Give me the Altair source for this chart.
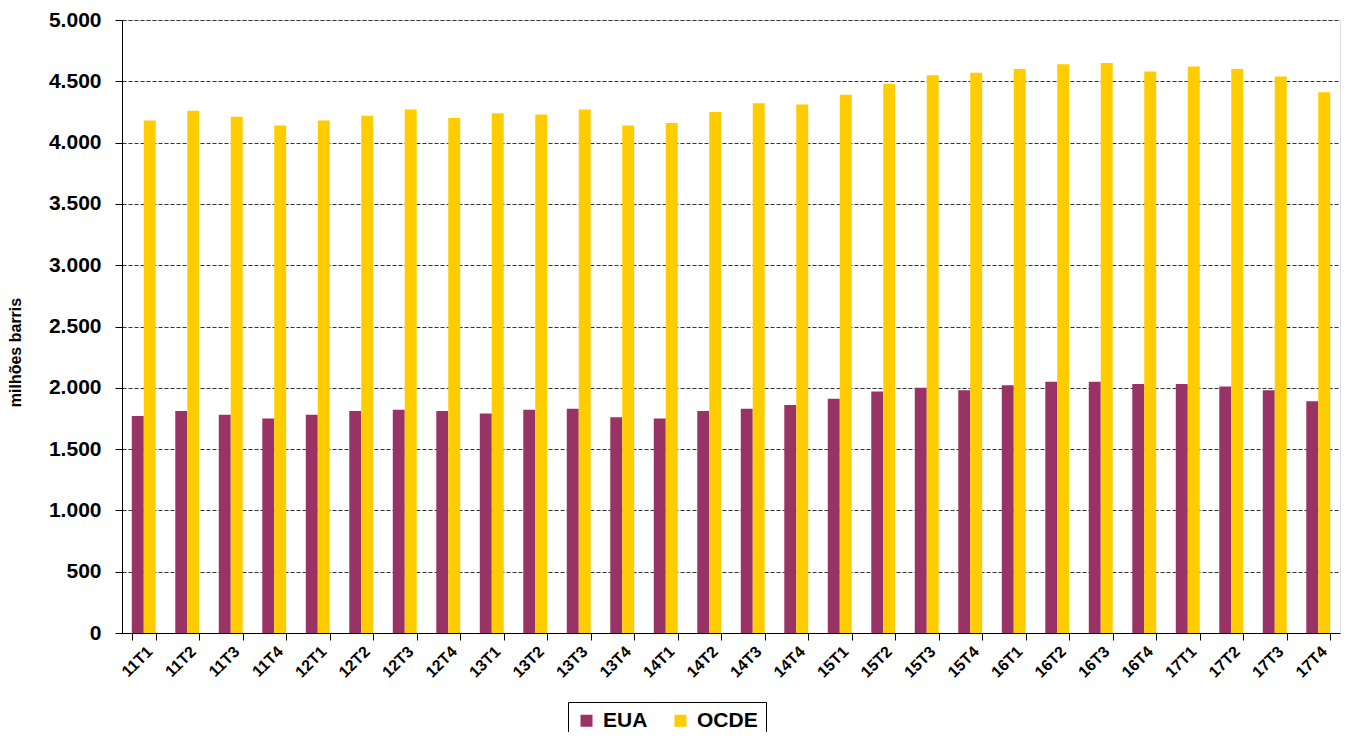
import altair as alt
import pandas as pd

quarters = ["11T1", "11T2", "11T3", "11T4", "12T1", "12T2", "12T3", "12T4",
            "13T1", "13T2", "13T3", "13T4", "14T1", "14T2", "14T3", "14T4",
            "15T1", "15T2", "15T3", "15T4", "16T1", "16T2", "16T3", "16T4",
            "17T1", "17T2", "17T3", "17T4"]
eua = [1770, 1810, 1780, 1750, 1780, 1810, 1820, 1810,
       1790, 1820, 1830, 1760, 1750, 1810, 1830, 1860,
       1910, 1970, 2000, 1980, 2020, 2050, 2050, 2030,
       2030, 2010, 1980, 1890]
ocde = [4180, 4260, 4210, 4140, 4180, 4220, 4270, 4200,
        4240, 4230, 4270, 4140, 4160, 4250, 4320, 4310,
        4390, 4480, 4550, 4570, 4600, 4640, 4650, 4580,
        4620, 4600, 4540, 4410]
series = ["EUA", "OCDE"]
colors = ["#993366", "#FFCC00"]
y_ticks = [0, 500, 1000, 1500, 2000, 2500, 3000, 3500, 4000, 4500, 5000]

rows = []
for q, e, o in zip(quarters, eua, ocde):
    rows.append({"trimestre": q, "serie": "EUA", "valor": e})
    rows.append({"trimestre": q, "serie": "OCDE", "valor": o})
df = pd.DataFrame(rows)

FONT = "Liberation Sans"

chart = alt.Chart(df).mark_bar().encode(
    x=alt.X("trimestre:N", sort=quarters,
            scale=alt.Scale(paddingInner=0.45, paddingOuter=0.225),
            axis=alt.Axis(title=None, labelAngle=-45, tickBand="extent",
                          labelFont=FONT, labelFontSize=16, labelFontWeight="bold",
                          labelColor="black", domainColor="black", tickColor="black",
                          tickSize=7, labelPadding=3, grid=False)),
    xOffset=alt.XOffset("serie:N", sort=series,
                        scale=alt.Scale(paddingInner=0, paddingOuter=0)),
    y=alt.Y("valor:Q", scale=alt.Scale(domain=[0, 5000], nice=False),
            axis=alt.Axis(title="milhões barris", values=y_ticks,
                          labelExpr="replace(format(datum.value, ',d'), ',', '.')",
                          labelFont=FONT, labelFontSize=21, labelFontWeight="bold",
                          labelColor="black", labelPadding=14,
                          titleFont=FONT, titleFontSize=16, titleFontWeight="bold",
                          titleColor="black", titleX=-99, titleY=332,
                          domainColor="black", tickColor="black", tickSize=7,
                          grid=True, gridColor="#333333", gridDash=[4, 2],
                          gridWidth=1)),
    color=alt.Color("serie:N", scale=alt.Scale(domain=series, range=colors),
                    legend=alt.Legend(title=None, orient="none", direction="horizontal",
                                      legendX=446, legendY=682,
                                      strokeColor="black", padding=8,
                                      symbolType="square", symbolSize=144,
                                      symbolStrokeWidth=0, labelOffset=6,
                                      labelFont=FONT, labelFontSize=21,
                                      labelFontWeight="bold", labelColor="black",
                                      columnPadding=22)),
).properties(
    width=1218, height=613,
    padding={"left": 114, "top": 12, "right": 5, "bottom": 99},
    autosize=alt.AutoSizeParams(type="none"),
).configure_view(stroke=None).configure(background="white")

chart.save("out.html", embed_options={"renderer": "svg", "actions": False})
